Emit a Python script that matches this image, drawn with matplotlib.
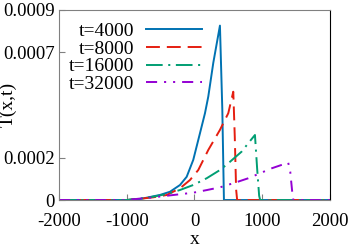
import matplotlib
matplotlib.use("Agg")
import matplotlib.pyplot as plt

plt.rcParams['font.family'] = ['Liberation Serif', 'DejaVu Serif']
plt.rcParams['lines.scale_dashes'] = False

# curve values
x_4000 = [-2000, -1000, -800, -706, -509, -362, -214, -115, -18, 81, 155, 204, 278, 376, 411, 435, 2000]
y_4000 = [0, 0, 0.000005, 0.000011, 0.000024, 0.000039, 0.000071, 0.000110, 0.000190, 0.000316,
          0.000411, 0.00049, 0.00065, 0.000826, 0.00043, 0, 0]

x_8000 = [-2000, -1000, -800, -608, -410, -214, -66, 56, 204, 376, 499, 573, 595, 615, 630, 2000]
y_8000 = [0, 0, 0.000006, 0.0000128, 0.0000237, 0.0000555, 0.0000948, 0.000142, 0.000237,
          0.000332, 0.000411, 0.000513, 0.0003, 0.00005, 0, 0]

x_16000 = [-2000, -1000, -800, -608, -410, -214, -18, 180, 376, 499, 696, 794, 893, 925, 955, 970, 2000]
y_16000 = [0, 0, 0.000007, 0.0000156, 0.0000284, 0.0000474, 0.0000711, 0.000103, 0.000142,
           0.000174, 0.000229, 0.000269, 0.000308, 0.00015, 0.00002, 0, 0]

x_32000 = [-2000, -1000, -800, -608, -313, -18, 180, 376, 598, 794, 1139, 1384, 1414, 1443, 1460, 2000]
y_32000 = [0, 0, 0.000007, 0.0000128, 0.0000237, 0.0000346, 0.000047, 0.00006, 0.000082,
           0.000103, 0.00015, 0.000177, 0.000134, 0.000039, 0, 0]

labels = ['t=4000', 't=8000', 't=16000', 't=32000']
colors = ['#0072b2', '#e51e10', '#009e73', '#9400d3']

x_ticks = [-2000, -1000, 0, 1000, 2000]
y_ticks = [0, 0.0002, 0.0007, 0.0009]
y_tick_labels = ['0', '0.0002', '0.0007', '0.0009']

fig = plt.figure(figsize=(3.54, 2.48), dpi=100)
ax = fig.add_axes([0.1667, 0.1935, 0.7653, 0.7662])

lw = 1.4
ax.plot(x_4000, y_4000, color=colors[0], lw=lw, label=labels[0])
ax.plot(x_8000, y_8000, color=colors[1], lw=lw, dashes=(10, 5), label=labels[1])
ax.plot(x_16000, y_16000, color=colors[2], lw=lw, dashes=(12, 4, 1.5, 4), label=labels[2])
ax.plot(x_32000, y_32000, color=colors[3], lw=lw, dashes=(8, 5, 1.5, 5, 1.5, 5), label=labels[3])

ax.set_xlim(-2000, 2000)
ax.set_ylim(0, 0.0009)
ax.set_xticks(x_ticks)
ax.set_xticklabels([str(v) for v in x_ticks])
ax.set_yticks(y_ticks)
ax.set_yticklabels(y_tick_labels)
ax.tick_params(direction='in', length=4, color='#808080', labelsize=13.5)
ax.tick_params(axis='x', pad=9)
ax.tick_params(axis='y', pad=3)

for side in ['left', 'top', 'bottom']:
    ax.spines[side].set_color('#808080')
ax.spines['right'].set_color('black')

ax.set_xlabel('x', fontsize=14, labelpad=1)
ax.set_ylabel('T(x,t)', fontsize=14)
ax.yaxis.set_label_coords(-0.155, 0.505)

ax.legend(loc='upper left', frameon=False, markerfirst=False, fontsize=14,
          handlelength=2.9, labelspacing=0.0, handletextpad=0.6,
          borderaxespad=0.1, bbox_to_anchor=(0.0, 0.985))

fig.savefig('out.png', dpi=100)
